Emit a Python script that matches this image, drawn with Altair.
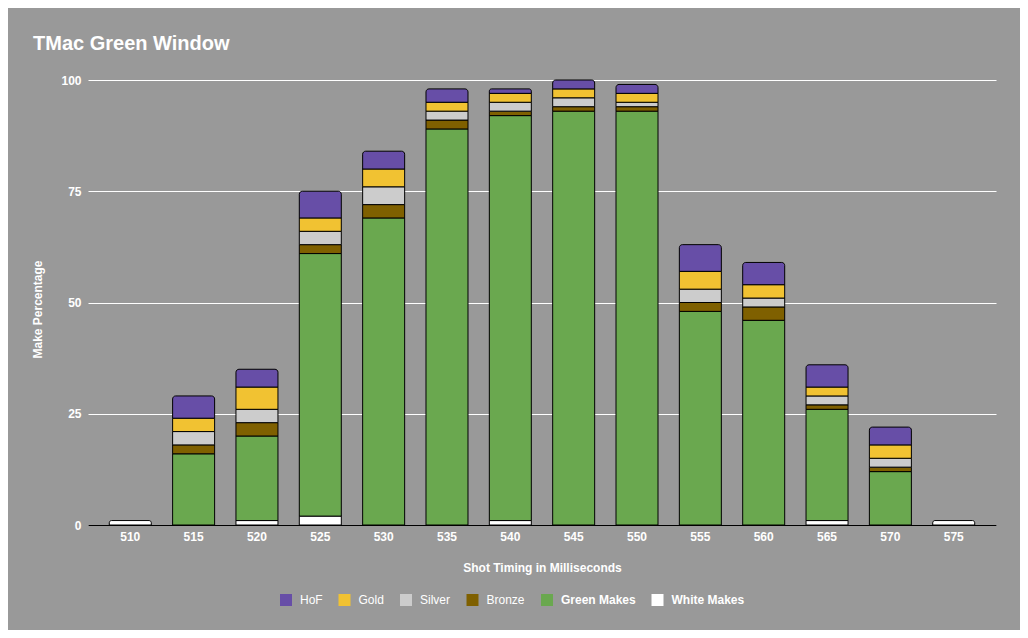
import altair as alt
import pandas as pd

timings = [510, 515, 520, 525, 530, 535, 540, 545, 550, 555, 560, 565, 570, 575]
white_makes = [1, 0, 1, 2, 0, 0, 1, 0, 0, 0, 0, 1, 0, 1]
green_makes = [0, 16, 19, 59, 69, 89, 91, 93, 93, 48, 46, 25, 12, 0]
bronze = [0, 2, 3, 2, 3, 2, 1, 1, 1, 2, 3, 1, 1, 0]
silver = [0, 3, 3, 3, 4, 2, 2, 2, 1, 3, 2, 2, 2, 0]
gold = [0, 3, 5, 3, 4, 2, 2, 2, 2, 4, 3, 2, 3, 0]
hof = [0, 5, 4, 6, 4, 3, 1, 2, 2, 6, 5, 5, 4, 0]

series_names = ["White Makes", "Green Makes", "Bronze", "Silver", "Gold", "HoF"]
series_values = [white_makes, green_makes, bronze, silver, gold, hof]
legend_order = ["HoF", "Gold", "Silver", "Bronze", "Green Makes", "White Makes"]
legend_colors = ["#674ea7", "#f1c232", "#cccccc", "#7f6000", "#6aa84f", "#ffffff"]
bold_legend_labels = ["Green Makes", "White Makes"]

rows = []
for order, (name, vals) in enumerate(zip(series_names, series_values)):
    for t, v in zip(timings, vals):
        rows.append({"timing": t, "series": name, "value": v, "order": order})
df = pd.DataFrame(rows)

FONT = "Liberation Sans"

base = (
    alt.Chart(df)
    .transform_filter("datum.value > 0")
    .transform_stack(
        stack="value",
        groupby=["timing"],
        as_=["y0", "y1"],
        sort=[alt.SortField("order", order="ascending")],
    )
    .transform_joinaggregate(top="max(y1)", groupby=["timing"])
    .transform_calculate(isTop="datum.y1 == datum.top ? 1 : 0")
)

x_enc = alt.X(
    "timing:O",
    title="Shot Timing in Milliseconds",
    scale=alt.Scale(paddingInner=0.337, paddingOuter=0.336),
    axis=alt.Axis(
        labelAngle=0,
        ticks=False,
        grid=False,
        domainColor="black",
        domainWidth=1,
        labelPadding=6,
        titleX=454,
        titleY=42,
        titleBaseline="middle",
    ),
)
y_enc = alt.Y(
    "y0:Q",
    title="Make Percentage",
    scale=alt.Scale(domain=[0, 100], nice=False),
    axis=alt.Axis(
        values=[0, 25, 50, 75, 100],
        ticks=False,
        domain=False,
        grid=True,
        gridColor="white",
        gridWidth=1,
        labelPadding=7,
        titleX=-51,
        titleY=229,
        titleAngle=-90,
        titleAlign="center",
        titleBaseline="middle",
    ),
)
bold_list = "[" + ",".join("'%s'" % s for s in bold_legend_labels) + "]"
color_enc = alt.Color(
    "series:N",
    scale=alt.Scale(domain=legend_order, range=legend_colors),
    legend=alt.Legend(
        title=None,
        orient="none",
        direction="horizontal",
        legendX=192,
        legendY=514,
        symbolType="square",
        symbolSize=144,
        symbolStrokeWidth=0,
        symbolOpacity=1,
        labelOffset=8,
        columnPadding=15.5,
        padding=0,
        labelFontWeight=alt.ExprRef(
            expr="indexof(%s, datum.value) >= 0 ? 'bold' : 'normal'" % bold_list
        ),
    ),
)

body = base.transform_filter("datum.isTop == 0").mark_bar(
    stroke="black", strokeWidth=1
).encode(x=x_enc, y=y_enc, y2="y1:Q", color=color_enc)

tops = base.transform_filter("datum.isTop == 1").mark_bar(
    stroke="black", strokeWidth=1, cornerRadiusTopLeft=3, cornerRadiusTopRight=3
).encode(x=x_enc, y=y_enc, y2="y1:Q", color=color_enc)

chart = (
    alt.layer(body, tops)
    .properties(
        width=908,
        height=445,
        autosize=alt.AutoSizeParams(type="none"),
        padding={"left": 80, "top": 72, "right": 24, "bottom": 105},
        title=alt.TitleParams(
            "TMac Green Window",
            anchor="start",
            frame="group",
            dx=-55,
            offset=4,
            baseline="alphabetic",
            fontSize=20,
            font=FONT,
            fontWeight="bold",
            color="white",
        ),
    )
    .configure(background="#999999")
    .configure_view(stroke=None)
    .configure_axis(
        labelColor="white",
        labelFont=FONT,
        labelFontSize=12,
        labelFontWeight="bold",
        titleColor="white",
        titleFont=FONT,
        titleFontSize=12,
        titleFontWeight="bold",
    )
    .configure_legend(
        labelColor="white",
        labelFont=FONT,
        labelFontSize=12,
    )
)

chart.save("out.html", embed_options={"renderer": "svg", "actions": False})
